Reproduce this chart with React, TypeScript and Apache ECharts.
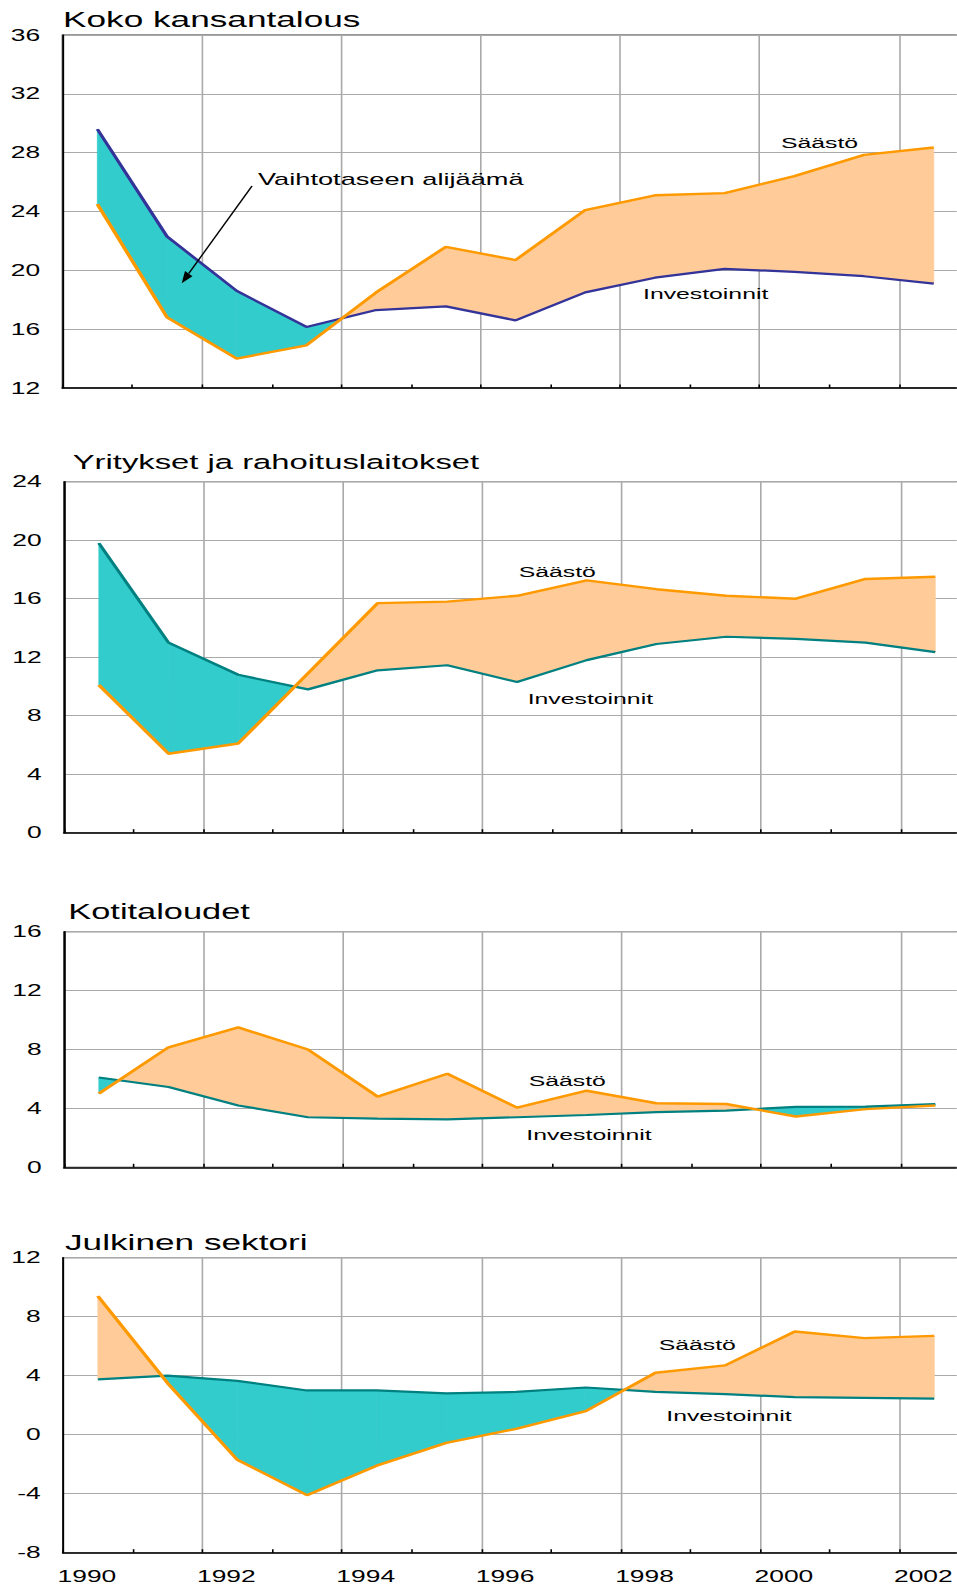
import React, { useEffect, useRef } from "react";
import * as echarts from "echarts";

// ---- data (values in % of GDP, mid-year points) ----
const years = [1990, 1991, 1992, 1993, 1994, 1995, 1996, 1997, 1998, 1999, 2000, 2001, 2002];
const xTickLabels = ["1990", "1992", "1994", "1996", "1998", "2000", "2002"];

const kokoSaasto = [24.5, 16.8, 14.0, 14.9, 18.5, 21.6, 20.7, 24.1, 25.1, 25.25, 26.4, 27.85, 28.35];
const kokoInvest = [29.6, 22.3, 18.6, 16.15, 17.3, 17.55, 16.6, 18.5, 19.5, 20.1, 19.9, 19.6, 19.1];

const yritSaasto = [10.1, 5.4, 6.1, 10.9, 15.7, 15.8, 16.2, 17.25, 16.65, 16.2, 16.0, 17.35, 17.5];
const yritInvest = [19.8, 13.0, 10.8, 9.8, 11.1, 11.45, 10.3, 11.8, 12.9, 13.4, 13.25, 13.0, 12.35];

const kotiSaasto = [5.0, 8.15, 9.5, 8.0, 4.8, 6.35, 4.05, 5.2, 4.35, 4.3, 3.45, 3.95, 4.2];
const kotiInvest = [6.1, 5.45, 4.2, 3.4, 3.3, 3.25, 3.4, 3.55, 3.75, 3.85, 4.1, 4.12, 4.3];

const julkSaasto = [9.4, 3.5, -1.7, -4.1, -2.1, -0.55, 0.4, 1.6, 4.2, 4.7, 7.0, 6.55, 6.7];
const julkInvest = [3.75, 4.0, 3.65, 3.0, 3.0, 2.8, 2.9, 3.2, 2.9, 2.75, 2.55, 2.5, 2.45];

const titles = ["Koko kansantalous", "Yritykset ja rahoituslaitokset", "Kotitaloudet", "Julkinen sektori"];
const saastoLabel = "Säästö";
const investLabel = "Investoinnit";
const arrowLabel = "Vaihtotaseen alijäämä";

// ---- layout / style ----
const SX = 1.6; // horizontal stretch of the original picture
const PAGE_W = 957;
const H = 1588;
const W = PAGE_W / SX;
const YW = 69.7; // px per year (full scale)
const FONT = "'Liberation Sans', Arial, Helvetica, sans-serif";
const ORANGE = "#FF9900";
const PEACH = "#FFCC99";
const TURQ = "#33CCCC";
const TEAL = "#008080";
const NAVY = "#333399";
const GRIDC = "#a9a9a9";

const panels = [
  { title: titles[0], tx: 63, ty: 19.2, ts: 22, left: 62.5, top: 35, bottom: 388, min: 12, max: 36, s: kokoSaasto, i: kokoInvest, ic: NAVY,
    sl: [781, 142.5], il: [643, 293.3] },
  { title: titles[1], tx: 72.7, ty: 462, ts: 20.5, left: 64, top: 481.7, bottom: 832.7, min: 0, max: 24, s: yritSaasto, i: yritInvest, ic: TEAL,
    sl: [518.7, 571.7], il: [527.7, 698] },
  { title: titles[2], tx: 68.3, ty: 912, ts: 21.5, left: 64, top: 931.7, bottom: 1167.3, min: 0, max: 16, s: kotiSaasto, i: kotiInvest, ic: TEAL,
    sl: [528.7, 1080.3], il: [526.3, 1134.5] },
  { title: titles[3], tx: 65, ty: 1241.7, ts: 22, left: 63, top: 1257.7, bottom: 1552.7, min: -8, max: 12, s: julkSaasto, i: julkInvest, ic: TEAL,
    sl: [658.7, 1344.5], il: [666.3, 1415.8] },
];

function buildOption() {
  const grid: any[] = [];
  const xAxis: any[] = [];
  const yAxis: any[] = [];
  const series: any[] = [];
  const graphic: any[] = [];

  panels.forEach((p, k) => {
    const last = k === panels.length - 1;
    grid.push({
      left: p.left / SX,
      width: (14 * YW) / SX,
      top: p.top,
      height: p.bottom - p.top,
      outerBoundsMode: "none",
      containLabel: false,
      show: true,
      borderColor: "#333",
      borderWidth: 1,
      backgroundColor: "transparent",
    });
    xAxis.push({
      type: "value",
      gridIndex: k,
      min: 1990,
      max: 2004,
      interval: 2,
      axisLine: { show: true, onZero: false, lineStyle: { color: "#000", width: 1.6 } },
      axisTick: { show: true, inside: true, length: 3.5, lineStyle: { color: "#000", width: 1 } },
      minorTick: { show: true, splitNumber: 2, length: 3.5, lineStyle: { color: "#000", width: 1 } },
      splitLine: { show: true, lineStyle: { color: GRIDC, width: 1 } },
      axisLabel: {
        show: last,
        showMaxLabel: false,
        align: "left",
        padding: [0, 0, 0, -3.4],
        margin: 15,
        fontSize: 16.5,
        fontFamily: FONT,
        color: "#000",
        formatter: (v: number) => (xTickLabels.includes(String(v)) ? String(v) : ""),
      },
    });
    yAxis.push({
      type: "value",
      gridIndex: k,
      min: p.min,
      max: p.max,
      interval: 4,
      axisLine: { show: true, onZero: false, lineStyle: { color: "#000", width: 1.2 } },
      axisTick: { show: false },
      splitLine: { show: true, lineStyle: { color: GRIDC, width: 1 } },
      axisLabel: { fontSize: 16.5, fontFamily: FONT, color: "#000", margin: 14 },
    });

    const segs = years.slice(0, -1).map((y, j) => [
      y + 0.5, p.s[j], p.i[j], years[j + 1] + 0.5, p.s[j + 1], p.i[j + 1],
    ]);
    series.push({
      type: "custom",
      xAxisIndex: k,
      yAxisIndex: k,
      silent: true,
      z: 1,
      data: segs,
      renderItem: (_params: any, api: any) => {
        const x0 = api.value(0), s0 = api.value(1), i0 = api.value(2);
        const x1 = api.value(3), s1 = api.value(4), i1 = api.value(5);
        const P = (x: number, y: number) => api.coord([x, y]);
        const d0 = s0 - i0, d1 = s1 - i1;
        const poly = (pts: number[][], pos: boolean) => ({
          type: "polygon",
          shape: { points: pts },
          style: { fill: pos ? PEACH : TURQ, stroke: pos ? PEACH : TURQ, lineWidth: 0.6 },
        });
        const children: any[] = [];
        if (d0 * d1 >= 0) {
          children.push(poly([P(x0, s0), P(x1, s1), P(x1, i1), P(x0, i0)], d0 + d1 >= 0));
        } else {
          const t = d0 / (d0 - d1);
          const xc = x0 + t * (x1 - x0);
          const yc = s0 + t * (s1 - s0);
          children.push(poly([P(x0, s0), P(xc, yc), P(x0, i0)], d0 > 0));
          children.push(poly([P(xc, yc), P(x1, s1), P(x1, i1)], d1 > 0));
        }
        return { type: "group", children };
      },
    });
    series.push({
      type: "line",
      name: investLabel,
      xAxisIndex: k,
      yAxisIndex: k,
      silent: true,
      z: 3,
      symbol: "none",
      data: years.map((y, j) => [y + 0.5, p.i[j]]),
      lineStyle: { color: p.ic, width: 2.2 },
    });
    series.push({
      type: "line",
      name: saastoLabel,
      xAxisIndex: k,
      yAxisIndex: k,
      silent: true,
      z: 4,
      symbol: "none",
      data: years.map((y, j) => [y + 0.5, p.s[j]]),
      lineStyle: { color: ORANGE, width: 2.4 },
    });

    const txt = (x: number, y: number, text: string, fs: number) => ({
      type: "text",
      x: x / SX,
      y,
      z: 10,
      style: {
        text, fontSize: fs, fontFamily: FONT, fill: "#000",
        align: "left", verticalAlign: "middle", textAlign: "left", textVerticalAlign: "middle",
      },
    });
    graphic.push(txt(p.tx, p.ty, p.title, p.ts));
    graphic.push(txt(p.sl[0], p.sl[1], saastoLabel, 15.5));
    graphic.push(txt(p.il[0], p.il[1], investLabel, 15.5));
  });

  // annotation arrow in panel 1
  graphic.push({
    type: "text", x: 258 / SX, y: 179, z: 10,
    style: { text: arrowLabel, fontSize: 17, fontFamily: FONT, fill: "#000", align: "left", verticalAlign: "middle", textAlign: "left", textVerticalAlign: "middle" },
  });
  const tip = [181.7, 283.3];
  const start = [252, 186];
  const dx = tip[0] - start[0], dy = tip[1] - start[1];
  const len = Math.hypot(dx, dy);
  const ux = dx / len, uy = dy / len;
  const hl = 12, hw = 4.6;
  const base = [tip[0] - ux * hl, tip[1] - uy * hl];
  graphic.push({
    type: "line", z: 10,
    shape: { x1: start[0] / SX, y1: start[1], x2: base[0] / SX, y2: base[1] },
    style: { stroke: "#000", lineWidth: 1 },
  });
  graphic.push({
    type: "polygon", z: 10,
    shape: {
      points: [
        [tip[0] / SX, tip[1]],
        [(base[0] - uy * hw) / SX, base[1] + ux * hw],
        [(base[0] + uy * hw) / SX, base[1] - ux * hw],
      ],
    },
    style: { fill: "#000" },
  });

  return { animation: false, grid, xAxis, yAxis, series, graphic };
}

export default function App() {
  const ref = useRef<HTMLDivElement>(null);
  useEffect(() => {
    const chart = echarts.init(ref.current!, undefined, { renderer: "svg", width: W, height: H });
    chart.setOption(buildOption() as any);
    return () => chart.dispose();
  }, []);
  return (
    <div
      ref={ref}
      style={{
        position: "absolute",
        left: 0,
        top: 0,
        width: W,
        height: H,
        transform: `scaleX(${SX})`,
        transformOrigin: "0 0",
        background: "#fff",
      }}
    />
  );
}
